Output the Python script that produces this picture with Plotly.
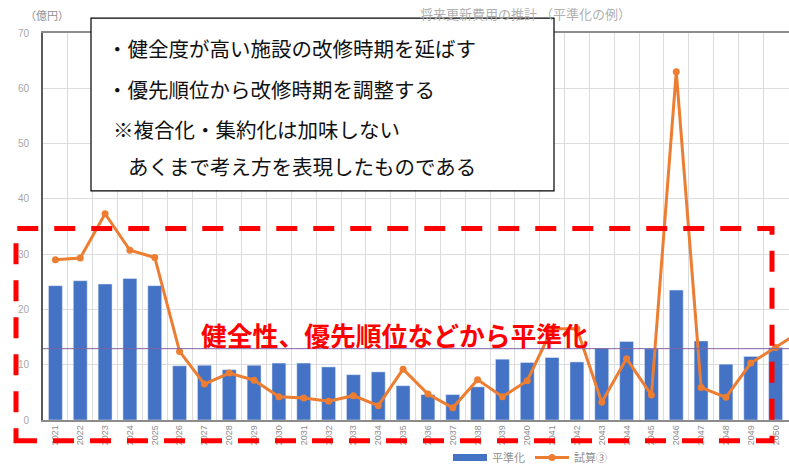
import plotly.graph_objects as go

# 年度ごとの将来更新費用（億円）
years = ["2021", "2022", "2023", "2024", "2025", "2026", "2027", "2028", "2029", "2030",
         "2031", "2032", "2033", "2034", "2035", "2036", "2037", "2038", "2039", "2040",
         "2041", "2042", "2043", "2044", "2045", "2046", "2047", "2048", "2049", "2050",
         "2051"]
leveled = [24.3, 25.2, 24.6, 25.6, 24.3, 9.8, 9.9, 9.1, 9.9, 10.3,
           10.3, 9.6, 8.2, 8.7, 6.2, 4.6, 4.6, 6.0, 11.0, 10.4,
           11.3, 10.5, 13.0, 14.2, 12.9, 23.5, 14.3, 10.1, 11.5, 13.1,
           None]
estimate = [29.0, 29.3, 37.3, 30.7, 29.4, 12.4, 6.5, 8.5, 7.2, 4.2,
            4.0, 3.4, 4.4, 2.6, 9.2, 4.7, 2.2, 7.3, 4.2, 7.1,
            16.5, 16.5, 3.2, 11.1, 4.5, 63.0, 5.9, 4.1, 10.3, 13.1,
            16.0]
y_ticks = [0, 10, 20, 30, 40, 50, 60, 70]

bar_name = "平準化"
line_name = "試算③"
chart_title = "将来更新費用の推計 （平準化の例）"
unit_label = "（億円）"
notes = [
    "・健全度が高い施設の改修時期を延ばす",
    "・優先順位から改修時期を調整する",
    "※複合化・集約化は加味しない",
    "あくまで考え方を表現したものである",
]
callout = "健全性、優先順位などから平準化"

# 平準化後の平均水準
vals = [v for v in leveled if v is not None]
average_level = sum(vals) / len(vals)

BLUE = "#4472C4"
ORANGE = "#ED7D31"
GRAY_TXT = "#A0A0A0"
GRID = "#DCDCDC"

W, H = 789, 472
ML, MR, MT, MB = 43, 0, 33, 47
PW, PH = W - ML - MR, H - MT - MB


def fx(px):
    return (px - ML) / PW


def fy(py):
    return (H - MB - py) / PH


fig = go.Figure()

fig.add_trace(go.Bar(
    x=years, y=leveled, name=bar_name, marker_color=BLUE,
    showlegend=False,
))
fig.add_trace(go.Scatter(
    x=years, y=estimate, name=line_name, mode="lines+markers",
    line=dict(color=ORANGE, width=3),
    marker=dict(color=ORANGE, size=7),
    showlegend=False,
))
# 凡例表示用
fig.add_trace(go.Scatter(
    x=[None], y=[None], name=bar_name, mode="lines",
    line=dict(color=BLUE, width=7),
))
fig.add_trace(go.Scatter(
    x=[None], y=[None], name=line_name, mode="lines+markers",
    line=dict(color=ORANGE, width=3),
    marker=dict(color=ORANGE, size=7),
))

shapes = [
    # 平均水準線
    dict(type="line", xref="paper", yref="y", x0=0, x1=1,
         y0=average_level, y1=average_level,
         line=dict(color="#8064A2", width=1), layer="above"),
    # 赤の破線枠
    dict(type="rect", xref="paper", yref="paper",
         x0=fx(16), x1=fx(772), y0=fy(446), y1=fy(231),
         line=dict(color="#FF0000", width=5, dash="21px,16px"),
         fillcolor="rgba(0,0,0,0)", layer="above"),
    # 説明ボックス
    dict(type="rect", xref="paper", yref="paper",
         x0=fx(91), x1=fx(554), y0=fy(193), y1=fy(18),
         line=dict(color="#000000", width=1.2),
         fillcolor="#FFFFFF", layer="above"),
]

annotations = [
    dict(text=chart_title, xref="paper", yref="paper", x=fx(525), y=fy(13),
         xanchor="center", yanchor="middle", showarrow=False,
         font=dict(size=13, color="#B0B0B0")),
    dict(text=unit_label, xref="paper", yref="paper", x=fx(47), y=fy(15),
         xanchor="center", yanchor="middle", showarrow=False,
         font=dict(size=11, color="#909090")),
    dict(text="<b>" + callout + "</b>", xref="paper", yref="paper",
         x=fx(394), y=fy(338), xanchor="center", yanchor="middle",
         showarrow=False, font=dict(size=25.8, color="#FF0000")),
]
note_pos = [(105, 48), (105, 90), (111, 130), (126, 168)]
for txt, (nx, ny) in zip(notes, note_pos):
    annotations.append(dict(
        text=txt, xref="paper", yref="paper", x=fx(nx), y=fy(ny),
        xanchor="left", yanchor="middle", showarrow=False,
        font=dict(size=20.5, color="#111111"),
    ))

fig.update_layout(
    width=W, height=H,
    margin=dict(l=ML, r=MR, t=MT, b=MB, pad=0),
    paper_bgcolor="#FFFFFF", plot_bgcolor="#FFFFFF",
    font=dict(family="Noto Sans CJK JP", color=GRAY_TXT),
    bargap=0.44,
    shapes=shapes,
    annotations=annotations,
    legend=dict(orientation="h", x=fx(530), y=fy(463), xanchor="center",
                yanchor="middle", font=dict(size=11, color="#909090"),
                itemwidth=34, bgcolor="rgba(0,0,0,0)"),
    xaxis=dict(
        type="category", range=[-0.5, 29.54], tickson="boundaries",
        ticks="", tickangle=-90, showgrid=True, gridcolor=GRID, gridwidth=1,
        showline=True, linecolor="#8C8C8C", linewidth=1.5, mirror=True,
        tickfont=dict(size=9, color="#8C8C8C", family="Liberation Sans"),
    ),
    yaxis=dict(
        range=[0, 70], tickvals=y_ticks, showgrid=True, gridcolor=GRID,
        zeroline=False, showline=True, linecolor="#5A5A5A", linewidth=2,
        ticks="", ticklabelstandoff=10,
        tickfont=dict(size=10, color="#A8A8A8", family="Liberation Sans"),
    ),
)

fig.write_html("out.html")
